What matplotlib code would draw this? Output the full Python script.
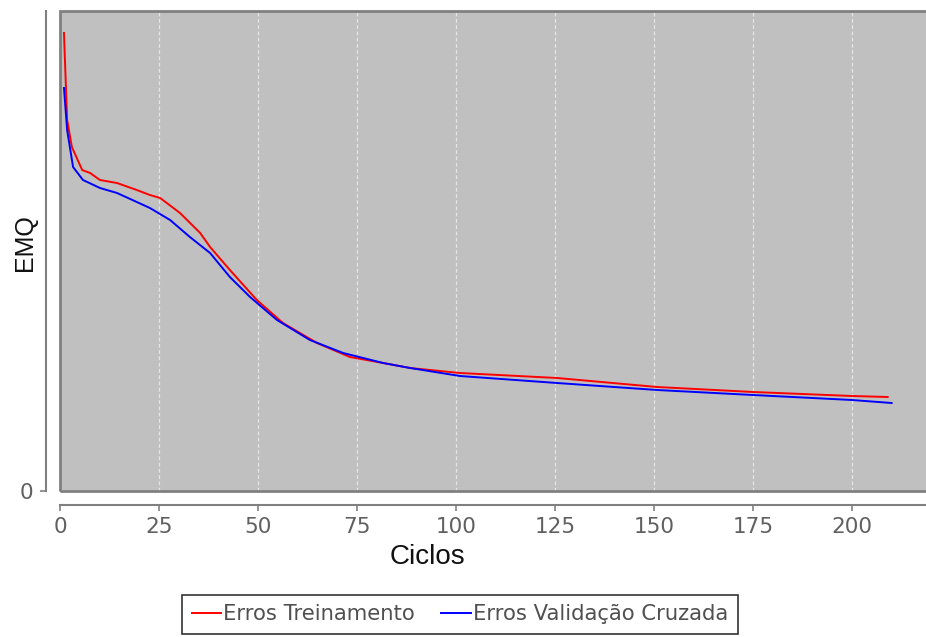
import matplotlib
matplotlib.use("Agg")
import matplotlib.pyplot as plt
from matplotlib.patches import Rectangle

# EMQ readings per cycle
ciclos_trein = [1.0, 1.8, 3.0, 5.6, 7.6, 10.1, 14.4, 19.4, 22.7, 25.3, 30.3, 35.4, 37.9,
                42.9, 49.7, 56.3, 64.9, 73.2, 81.6, 88.4, 101, 125.5, 150.8, 175, 200, 209]
erro_trein = [0.458, 0.371, 0.344, 0.321, 0.318, 0.311, 0.308, 0.301, 0.296, 0.293, 0.278,
              0.258, 0.244, 0.221, 0.191, 0.168, 0.148, 0.134, 0.128, 0.123, 0.118, 0.113,
              0.104, 0.099, 0.095, 0.094]

ciclos_valid = [1.0, 1.8, 3.3, 5.8, 10.1, 14.4, 19.4, 22.7, 27.8, 32.8, 37.9, 42.9, 48.0,
                54.8, 63.1, 71.5, 81.6, 88.4, 101, 125.5, 150.8, 175, 200, 210]
erro_valid = [0.403, 0.361, 0.324, 0.311, 0.303, 0.298, 0.289, 0.283, 0.271, 0.254, 0.238,
              0.214, 0.194, 0.171, 0.151, 0.138, 0.128, 0.123, 0.115, 0.108, 0.101, 0.096,
              0.091, 0.088]

xticks = [0, 25, 50, 75, 100, 125, 150, 175, 200]

W, H = 926, 637
fig = plt.figure(figsize=(W / 100, H / 100), dpi=100)
fig.patch.set_facecolor("white")

# plot area runs past the right edge of the picture (as in the reference)
left, right, top, bottom = 60, W + 4, 11, 491
ax = fig.add_axes([left / W, 1 - bottom / H, (right - left) / W, (bottom - top) / H])
ax.set_facecolor("#c0c0c0")

ax.plot(ciclos_trein, erro_trein, color="#ff0000", lw=1.4, label="Erros Treinamento", zorder=3)
ax.plot(ciclos_valid, erro_valid, color="#0000ff", lw=1.4, label="Erros Validação Cruzada", zorder=3)

ax.set_xlim(0, (right - left) / 3.96)
ax.set_ylim(0, 0.480)

for xt in xticks[1:]:
    ax.axvline(xt, color="white", lw=0.9, ls=(0, (3, 2)), alpha=0.6, zorder=1)

# plot border
ax.add_patch(Rectangle((0, 0), 1, 1, transform=ax.transAxes, fill=False,
                       ec="#808080", lw=2, clip_on=False, zorder=4))

for s in ["top", "right"]:
    ax.spines[s].set_visible(False)
for s in ["left", "bottom"]:
    ax.spines[s].set_position(("outward", 10))
    ax.spines[s].set_color("#808080")
    ax.spines[s].set_linewidth(1.5)

ax.set_xticks(xticks)
ax.set_yticks([0])
ax.set_yticklabels(["0"])
ax.tick_params(axis="both", colors="#808080", length=4, width=1.2,
               labelsize=15.5, labelcolor="#606060", pad=5)

fig.text(427 / W, 1 - 557 / H, "Ciclos", ha="center", va="center",
         fontsize=20, family="Liberation Sans", color="#111111")
fig.text(25 / W, 1 - 243 / H, "EMQ", ha="center", va="center", rotation=90,
         fontsize=18, family="Liberation Sans", color="#111111")

leg = fig.legend(loc="upper center", bbox_to_anchor=(460 / W, 1 - 595 / H), ncol=2,
                 fontsize=15.2, frameon=True, fancybox=False, handlelength=1.4,
                 handletextpad=0.1, columnspacing=1.25, borderpad=0.45, borderaxespad=0)
leg.get_frame().set_edgecolor("black")
leg.get_frame().set_linewidth(1.2)
for t in leg.get_texts():
    t.set_color("#505050")

fig.savefig("out.png", dpi=100)
